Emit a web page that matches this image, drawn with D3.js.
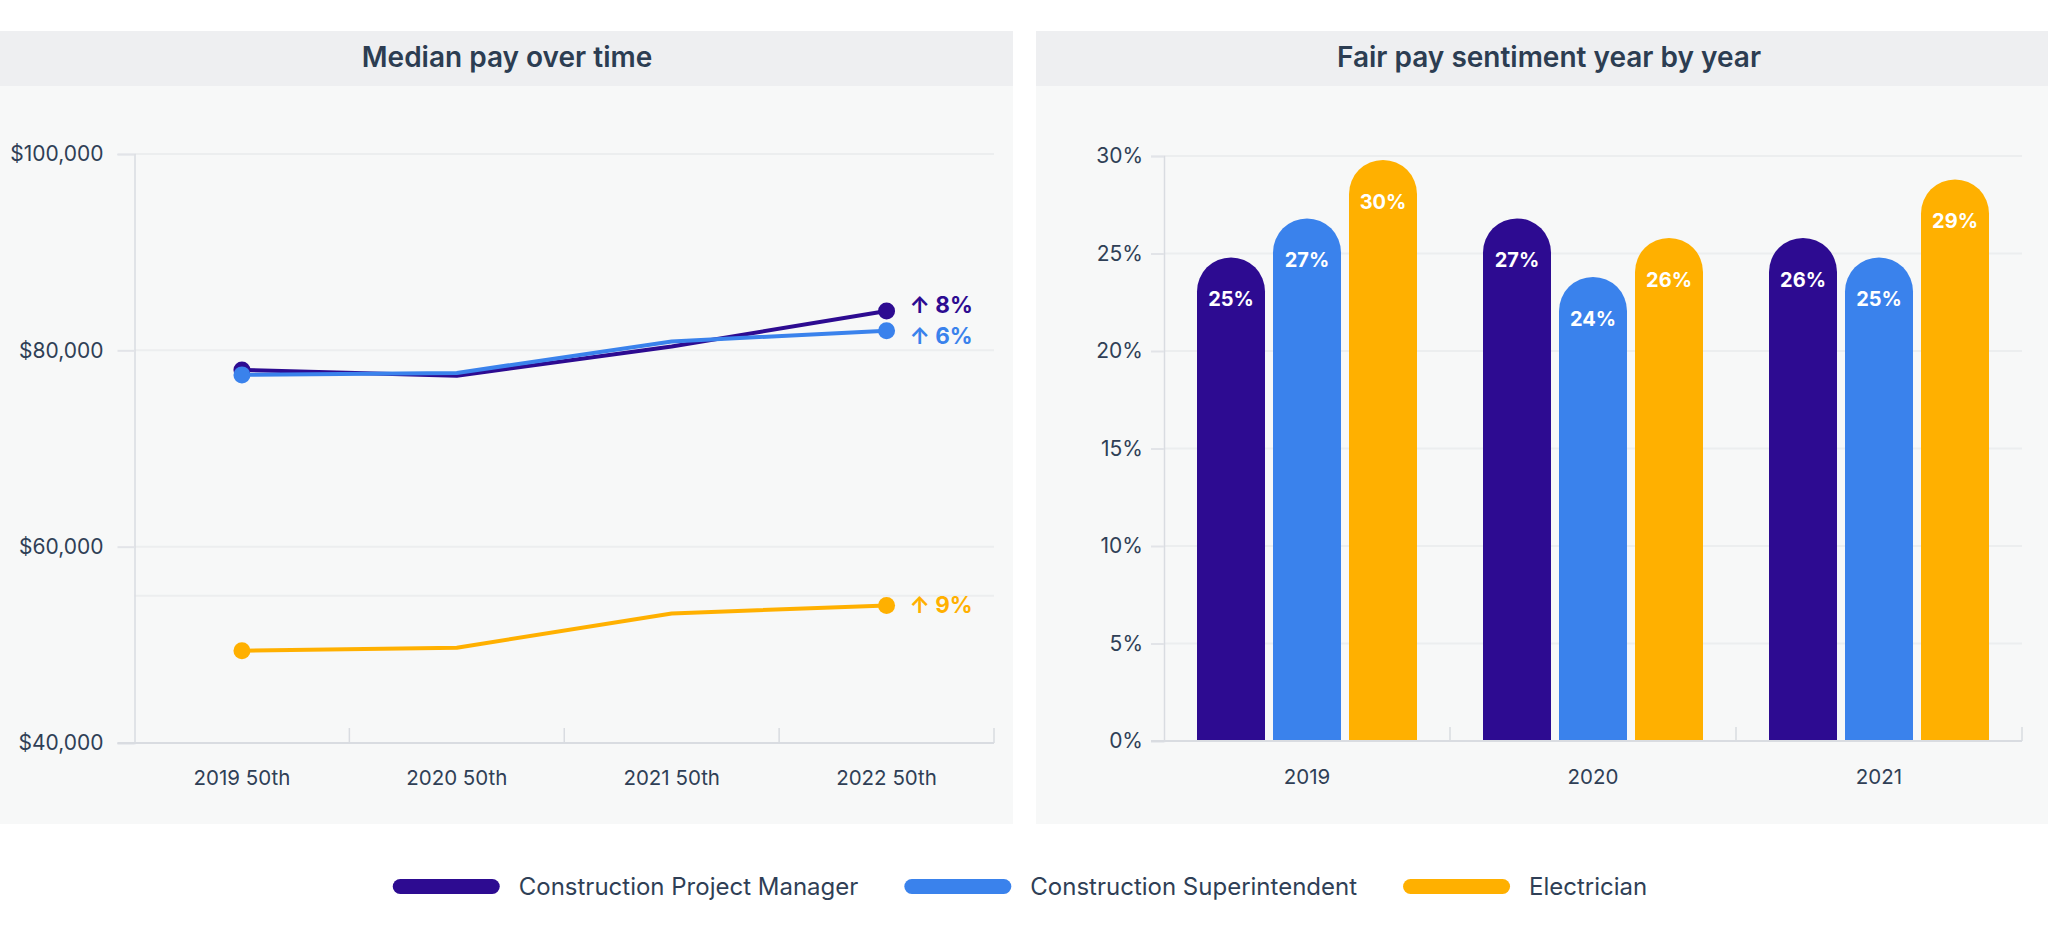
<!DOCTYPE html>
<html>
<head>
<meta charset="utf-8">
<script src="https://cdn.jsdelivr.net/npm/d3@7"></script>
<style>
  body { margin: 0; background: #fff; }
  svg { display: block; font-family: Inter, "Noto Sans", sans-serif; }
</style>
</head>
<body>
<div id="chart-area"></div>
<script>
// data
const series = ["Construction Project Manager", "Construction Superintendent", "Electrician"]
const colors = ["#2d0b91", "#3a82ec", "#ffb000"]

const payPeriods = ["2019 50th", "2020 50th", "2021 50th", "2022 50th"]
const payManager = [78000, 77400, 80400, 84000]
const paySuper = [77500, 77700, 80900, 82000]
const payElectrician = [49400, 49700, 53200, 54000]
const payChange = ["8%", "6%", "9%"]
const payTicks = [40000, 60000, 80000, 100000]
const payRefLine = 55000

const fairYears = ["2019", "2020", "2021"]
const fairManager = [24.8, 26.8, 25.8]
const fairSuper = [26.8, 23.8, 24.8]
const fairElectrician = [29.8, 25.8, 28.8]
const fairTicks = [0, 5, 10, 15, 20, 25, 30]

const W = 2048, H = 940
const TEXT = "#2f3f56"

const svg = d3.select("#chart-area").append("svg")
  .attr("width", W)
  .attr("height", H)

// panels
function panel(x0, x1, title, cx) {
  svg.append("rect").attr("x", x0).attr("y", 31).attr("width", x1 - x0).attr("height", 793).attr("fill", "#f7f8f8")
  svg.append("rect").attr("x", x0).attr("y", 31).attr("width", x1 - x0).attr("height", 55).attr("fill", "#eeeff1")
  svg.append("text")
    .attr("x", cx).attr("y", 67)
    .attr("text-anchor", "middle")
    .attr("font-size", "28px").attr("font-weight", 600)
    .attr("fill", "#2c3d52")
    .text(title)
}
panel(0, 1013, "Median pay over time", 507)
panel(1036, 2048, "Fair pay sentiment year by year", 1549)

// ---------- line chart ----------
const x = d3.scaleBand().domain(payPeriods).range([134.5, 994])
const y = d3.scaleLinear().domain([40000, 100000]).range([743, 154])

const gL = svg.append("g")

// grid
gL.selectAll(".grid").data(payTicks.concat([payRefLine])).enter().append("line")
  .attr("x1", 134.5).attr("x2", 994)
  .attr("y1", d => y(d)).attr("y2", d => y(d))
  .attr("stroke", "#eceeef").attr("stroke-width", 2)

const yAxisL = gL.append("g")
  .attr("transform", "translate(134.5,0)")
  .call(d3.axisLeft(y).tickValues(payTicks).tickSize(17).tickPadding(14)
    .tickFormat(d => "$" + d3.format(",")(d)))
yAxisL.select(".domain").attr("stroke", "#d9dce1").attr("stroke-width", 1.5)
yAxisL.selectAll(".tick line").attr("stroke", "#e2e4e8").attr("stroke-width", 2)
yAxisL.selectAll("text").attr("font-size", "21px").attr("fill", TEXT).attr("font-family", "Inter")

// bottom axis line + boundary ticks
gL.append("line").attr("x1", 117.5).attr("x2", 994).attr("y1", 743).attr("y2", 743)
  .attr("stroke", "#d9dce1").attr("stroke-width", 2)
gL.selectAll(".xt").data(payPeriods.slice(1).map(d => x(d)).concat([x.range()[1]])).enter().append("line")
  .attr("x1", d => d).attr("x2", d => d).attr("y1", 743).attr("y2", 728)
  .attr("stroke", "#d9dce1").attr("stroke-width", 1.5)
gL.selectAll(".xl").data(payPeriods).enter().append("text")
  .attr("x", d => x(d) + x.bandwidth() / 2).attr("y", 785)
  .attr("text-anchor", "middle").attr("font-size", "20.5px").attr("fill", TEXT)
  .text(d => d)

const payData = [payManager, paySuper, payElectrician]
const line = d3.line().x((d, i) => x(payPeriods[i]) + x.bandwidth() / 2).y(d => y(d))

payData.forEach((vals, s) => {
  gL.append("path").attr("d", line(vals))
    .attr("fill", "none").attr("stroke", colors[s]).attr("stroke-width", 4)
    .attr("stroke-linejoin", "round")
})
payData.forEach((vals, s) => {
  const last = vals.length - 1
  ;[0, last].forEach(i => {
    gL.append("circle")
      .attr("cx", x(payPeriods[i]) + x.bandwidth() / 2).attr("cy", y(vals[i]))
      .attr("r", 8.5).attr("fill", colors[s])
  })
})

// change labels, pushed apart if too close
const labelY = payData.map(v => y(v[v.length - 1]))
for (let k = 0; k < 3; k++) {
  for (let a = 0; a < labelY.length; a++) {
    for (let b = 0; b < labelY.length; b++) {
      if (a === b) continue
      const dy = labelY[b] - labelY[a]
      if (dy >= 0 && dy < 31) {
        const push = (31 - dy) / 2
        labelY[a] -= push; labelY[b] += push
      }
    }
  }
}
const lastX = x(payPeriods[3]) + x.bandwidth() / 2
payData.forEach((vals, s) => {
  gL.append("text")
    .attr("x", lastX + 23).attr("y", labelY[s])
    .attr("dy", "0.35em")
    .attr("font-size", "22.5px").attr("font-weight", 700)
    .attr("fill", colors[s])
    .text("\u2191 " + payChange[s])
})

// ---------- bar chart ----------
const x0 = d3.scaleBand().domain(fairYears).range([1164, 2022])
const x1 = d3.scaleBand().domain(series).range([33, 253]).paddingInner(8 / 76)
const yR = d3.scaleLinear().domain([0, 30]).range([741, 156])

const gR = svg.append("g")

gR.selectAll(".grid").data(fairTicks).enter().append("line")
  .attr("x1", 1164).attr("x2", 2022)
  .attr("y1", d => yR(d)).attr("y2", d => yR(d))
  .attr("stroke", "#eceeef").attr("stroke-width", 2)

const yAxisR = gR.append("g")
  .attr("transform", "translate(1164,0)")
  .call(d3.axisLeft(yR).tickValues(fairTicks).tickSize(13).tickPadding(8).tickFormat(d => d + "%"))
yAxisR.select(".domain").attr("stroke", "#d9dce1").attr("stroke-width", 1.5)
yAxisR.selectAll(".tick line").attr("stroke", "#e2e4e8").attr("stroke-width", 2)
yAxisR.selectAll("text").attr("font-size", "21px").attr("fill", TEXT).attr("font-family", "Inter")

const fairData = fairYears.map((yr, i) => ({
  year: yr,
  values: [fairManager[i], fairSuper[i], fairElectrician[i]]
}))

const bw = x1.bandwidth()
const r = bw / 2
const groups = gR.selectAll(".grp").data(fairData).enter().append("g")
  .attr("transform", d => `translate(${x0(d.year)},0)`)

groups.selectAll("path").data(d => d.values.map((v, s) => ({ v, s }))).enter().append("path")
  .attr("d", d => {
    const left = x1(series[d.s]), top = yR(d.v), bottom = yR(0)
    return `M${left},${bottom} V${top + r} A${r},${r} 0 0 1 ${left + bw},${top + r} V${bottom} Z`
  })
  .attr("fill", d => colors[d.s])

groups.selectAll(".val").data(d => d.values.map((v, s) => ({ v, s }))).enter().append("text")
  .attr("x", d => x1(series[d.s]) + bw / 2)
  .attr("y", d => yR(d.v) + 42)
  .attr("dy", "0.35em")
  .attr("text-anchor", "middle")
  .attr("font-size", "20px").attr("font-weight", 700)
  .attr("fill", "#fff")
  .text(d => Math.round(d.v) + "%")

gR.append("line").attr("x1", 1151).attr("x2", 2022).attr("y1", 741).attr("y2", 741)
  .attr("stroke", "#d9dce1").attr("stroke-width", 2)
gR.selectAll(".xt").data(fairYears.slice(1).map(d => x0(d)).concat([x0.range()[1]])).enter().append("line")
  .attr("x1", d => d).attr("x2", d => d).attr("y1", 741).attr("y2", 727)
  .attr("stroke", "#d9dce1").attr("stroke-width", 1.5)
gR.selectAll(".xl").data(fairYears).enter().append("text")
  .attr("x", d => x0(d) + x0.bandwidth() / 2).attr("y", 784)
  .attr("text-anchor", "middle").attr("font-size", "20.5px").attr("fill", TEXT)
  .text(d => d)

// ---------- legend ----------
const legend = svg.append("g")
let lx = 0
series.forEach((name, i) => {
  const item = legend.append("g").attr("transform", `translate(${lx},0)`)
  item.append("rect")
    .attr("x", 0).attr("y", 879).attr("width", 107).attr("height", 15)
    .attr("rx", 7.5).attr("fill", colors[i])
  const t = item.append("text")
    .attr("x", 126).attr("y", 895)
    .attr("font-size", "24px").attr("fill", TEXT)
    .text(name)
  lx += 126 + t.node().getComputedTextLength() + 46
})
const legendW = lx - 46
legend.attr("transform", `translate(${1020 - legendW / 2},0)`)
</script>
</body>
</html>
